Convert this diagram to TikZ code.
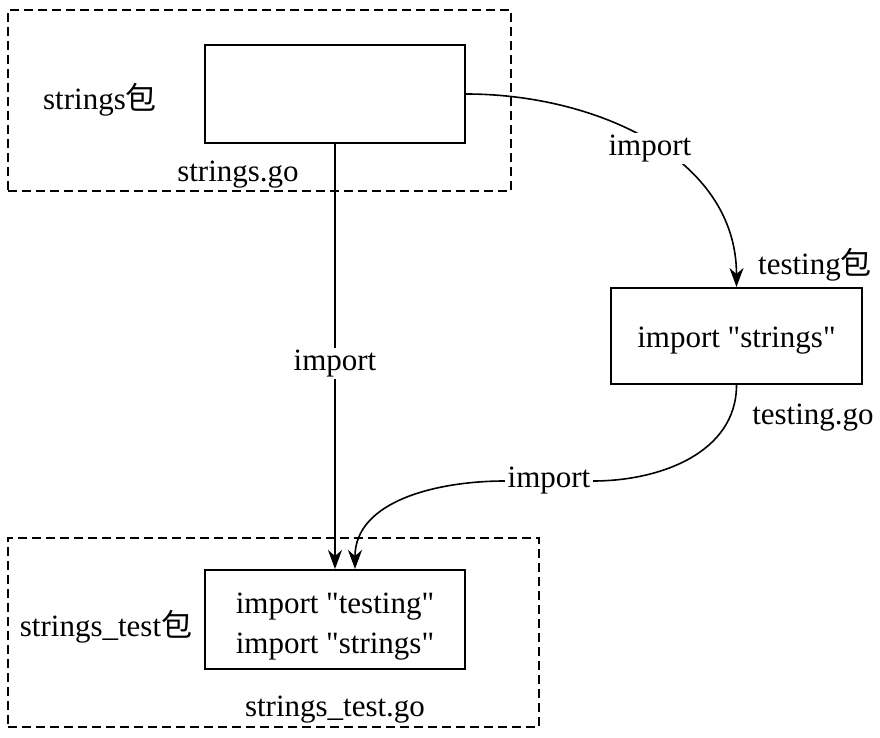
\documentclass[tikz,border=0pt]{standalone}
\usepackage{fontspec}
\setmainfont{Liberation Serif}
\newfontfamily\cjk{Noto Sans CJK SC}
\usetikzlibrary{arrows.meta,positioning}

\begin{document}
\begin{tikzpicture}[x=0.5pt,y=-0.5pt,line width=0.8pt,
                    font=\fontsize{15.5}{20}\selectfont,
                    uses/.style={-{Stealth[length=9.5pt,width=7pt,inset=3pt]}},
                    file/.style={draw,line width=1pt,minimum width=130pt,minimum height=49pt},
                    pkg/.style={draw,dash pattern=on 4.5pt off 2.5pt,line width=0.75pt},
                    txt/.style={align=center,yshift=-2.5pt},
                    lbl/.style={fill=white,inner sep=1pt,yshift=-3.5pt}]

	\useasboundingbox (0,0) rectangle (880,738);

	% packages
	\node[pkg,minimum width=251.5pt,minimum height=90.5pt] (pstr) at (259.5,100.5) {};
	\node[pkg,minimum width=265.5pt,minimum height=94.5pt] (ptst) at (273.5,632.5) {};

	% files
	\node[file] (str) at (335,94) {};
	\node[file,minimum width=125.5pt,minimum height=48pt] (tst) at (736.5,336) {};
	\node[file,minimum height=49.5pt] (stt) at (335,619.5) {};
	\node[txt] (tstsrc) at (tst) {import \textquotedbl strings\textquotedbl};
	\node[txt,yshift=-1pt] (sttsrc) at (stt) {import \textquotedbl testing\textquotedbl\\import \textquotedbl strings\textquotedbl};

	% names
	\node (strlbl) at (100,100)     {strings{\cjk 包}};
	\node[txt] (strgo) at (238,170) {strings.go};
	\node (tstlbl) at (815,265)     {testing{\cjk 包}};
	\node[txt] (tstgo) at (813,413) {testing.go};
	\node (sttlbl) at (106,627)     {strings\_test{\cjk 包}};
	\node[txt] (sttgo) at (335,705) {strings\_test.go};
	\node[lbl,yshift=1.5pt] (imp) at (549,477) {import};

	\draw[uses] (str.south) -- node[lbl] {import} (stt.north);
	\draw[uses] (str.east) to[out=0,in=90] node[lbl] {import} (tst.north);
	\draw (tst.south) to[out=-90,in=0] (imp.east);
	\draw[uses] (imp.west) to[out=180,in=90] ([xshift=10pt]stt.north);

\end{tikzpicture}
\end{document}
